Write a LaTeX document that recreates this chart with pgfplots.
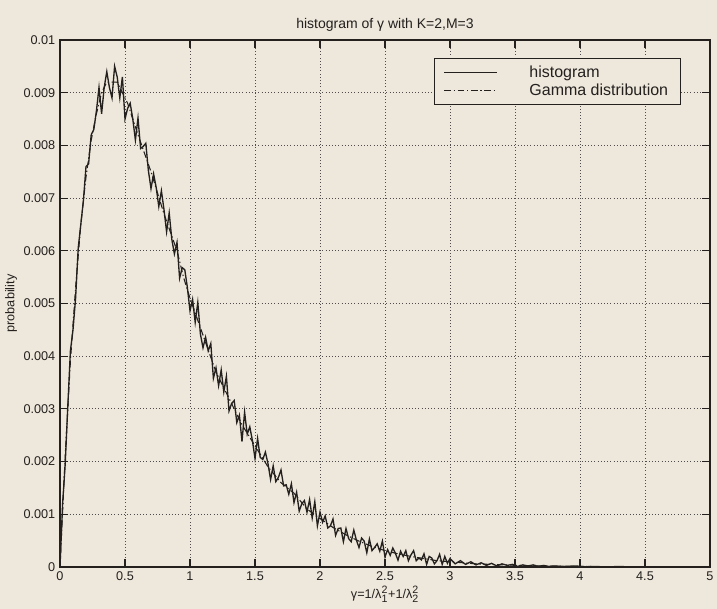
\documentclass[border=0pt]{standalone}
\usepackage{fontspec}
\setmainfont{Liberation Sans}
\usepackage{pgfplots}
\usepackage{pgfplotstable}
\pgfplotsset{compat=1.18}
\usetikzlibrary{calc,backgrounds}

\definecolor{paper}{RGB}{238,231,219}
\definecolor{ink}{RGB}{35,32,30}

% histogram of gamma (bin heights, every 0.02 up to 3)
\pgfplotstableread{
x y
0.00 0.0000
0.02 0.0012
0.04 0.00195
0.06 0.00305
0.08 0.0041
0.10 0.0045
0.12 0.0051
0.14 0.00605
0.16 0.0065
0.18 0.00695
0.20 0.0076
0.22 0.00765
0.24 0.0082
0.26 0.0083
0.28 0.00865
0.30 0.0091
0.32 0.0086
0.34 0.0091
0.36 0.0094
0.38 0.0091
0.40 0.0089
0.42 0.0095
0.44 0.0093
0.46 0.0089
0.48 0.0093
0.50 0.0085
0.52 0.0087
0.54 0.0088
0.56 0.0085
0.58 0.0081
0.60 0.00852
0.62 0.00794
0.64 0.00798
0.66 0.00804
0.68 0.00752
0.70 0.00718
0.72 0.00746
0.74 0.0072
0.76 0.00684
0.78 0.00714
0.80 0.00678
0.82 0.00636
0.84 0.00672
0.86 0.00622
0.88 0.00594
0.90 0.00616
0.92 0.00548
0.94 0.00568
0.96 0.00564
0.98 0.0053
1.00 0.00486
1.02 0.00508
1.04 0.00464
1.06 0.00502
1.08 0.00442
1.10 0.00416
1.12 0.00436
1.14 0.0041
1.16 0.00424
1.18 0.00358
1.20 0.00378
1.22 0.00344
1.24 0.00374
1.26 0.00332
1.28 0.00362
1.30 0.00296
1.32 0.0031
1.34 0.00316
1.36 0.00274
1.38 0.00288
1.40 0.00238
1.42 0.00294
1.44 0.00252
1.46 0.00266
1.48 0.0024
1.50 0.00206
1.52 0.00244
1.54 0.00208
1.56 0.00204
1.58 0.00218
1.60 0.00196
1.62 0.00166
1.64 0.00192
1.66 0.00162
1.68 0.0017
1.70 0.00184
1.72 0.00154
1.74 0.00156
1.76 0.00138
1.78 0.00158
1.80 0.00122
1.82 0.00142
1.84 0.00106
1.86 0.0012
1.88 0.00126
1.90 0.00104
1.92 0.00128
1.94 0.00093
1.96 0.00124
1.98 0.00078
2.00 0.00104
2.02 0.00085
2.04 0.00097
2.06 0.00074
2.08 0.00078
2.10 0.00091
2.12 0.00060
2.14 0.00073
2.16 0.00074
2.18 0.00048
2.20 0.00073
2.22 0.00054
2.24 0.00048
2.26 0.00070
2.28 0.00051
2.30 0.00037
2.32 0.00055
2.34 0.00049
2.36 0.00027
2.38 0.00053
2.40 0.00031
2.42 0.00037
2.44 0.00044
2.46 0.00030
2.48 0.00049
2.50 0.00019
2.52 0.00033
2.54 0.00022
2.56 0.00036
2.58 0.00026
2.60 0.00013
2.62 0.00030
2.64 0.00020
2.66 0.00031
2.68 0.00012
2.70 0.00023
2.72 0.00031
2.74 0.00012
2.76 0.00017
2.78 0.000135
2.80 0.00025
2.82 0.00005
2.84 0.00020
2.86 0.00017
2.88 0.00006
2.90 0.00012
2.92 0.00024
2.94 0.00005
2.96 0.00020
2.98 0.00007
3.00 0.00016
3.04 0.00006
3.08 0.00012
3.12 0.00005
3.16 0.00010
3.20 0.00004
3.24 0.00008
3.28 0.00003
3.32 0.00007
3.36 0.00002
3.40 0.00006
3.44 0.00003
3.48 0.00005
3.52 0.00001
3.56 0.00004
3.60 0.00002
3.64 0.00004
3.68 0.00001
3.72 0.00003
3.76 0.00001
3.80 0.00002
3.88 0.00001
3.96 0.00002
4.04 0.000005
4.12 0.00001
4.20 0.0
4.30 0.00001
4.40 0.0
4.60 0.000005
4.80 0.0
5.00 0.0
}\histdata

% fitted Gamma distribution (smooth curve under the histogram)
\pgfplotstableread{
x y
0.00 0.0
0.04 0.0021
0.08 0.0039
0.12 0.0053
0.16 0.0065
0.20 0.0074
0.24 0.0081
0.28 0.0086
0.32 0.0090
0.36 0.0092
0.40 0.0092
0.44 0.0092
0.48 0.0090
0.52 0.0088
0.56 0.0085
0.60 0.0082
0.65 0.00785
0.70 0.0075
0.75 0.0071
0.80 0.0067
0.85 0.00635
0.90 0.0060
0.95 0.0055
1.00 0.0051
1.10 0.0044
1.20 0.0037
1.30 0.0032
1.40 0.0027
1.50 0.0023
1.60 0.0019
1.70 0.0016
1.80 0.0014
1.90 0.0011
2.00 0.00092
2.10 0.00075
2.20 0.00061
2.30 0.00049
2.40 0.00039
2.50 0.00031
2.60 0.00025
2.70 0.00020
2.80 0.00016
2.90 0.00012
3.00 0.00010
3.20 0.00006
3.40 0.00004
3.60 0.000025
3.80 0.000015
4.00 0.00001
4.50 0.000003
5.00 0.0
}\gammadata

\begin{document}
\begin{tikzpicture}
\begin{axis}[
  scale only axis,
  width=487.5pt,
  height=395.25pt,
  xmin=0, xmax=5,
  ymin=0, ymax=0.01,
  xtick={0,0.5,1,1.5,2,2.5,3,3.5,4,4.5,5},
  ytick={0,0.001,0.002,0.003,0.004,0.005,0.006,0.007,0.008,0.009,0.01},
  scaled y ticks=false,
  yticklabel style={/pgf/number format/fixed, /pgf/number format/precision=3},
  /pgf/number format/assume math mode=true,
  ticklabel style={font=\fontsize{9.5}{11}\selectfont, text=ink},
  grid=major,
  major grid style={ink!80, dotted, line width=0.6pt},
  axis line style={ink, line width=0.9pt},
  tick style={ink, line width=0.8pt},
  major tick length=6pt,
  title={histogram of γ with K=2,M=3},
  title style={font=\fontsize{10.5}{12}\selectfont, text=ink, yshift=-3pt},
  xlabel={γ=1/λ$^{\mbox{\fontsize{8}{8}\selectfont 2}}_{\mbox{\fontsize{8}{8}\selectfont 1}}$+1/λ$^{\mbox{\fontsize{8}{8}\selectfont 2}}_{\mbox{\fontsize{8}{8}\selectfont 2}}$},
  xlabel style={font=\fontsize{9.5}{11}\selectfont, text=ink, yshift=3pt},
  ylabel={probability},
  ylabel style={font=\fontsize{9.5}{10}\selectfont, text=ink, yshift=-2pt},
  legend style={at={(1,1)}, anchor=north east, xshift=-22pt, yshift=-13.5pt,
    draw=ink, line width=0.8pt, fill=paper, text=ink,
    font=\fontsize{12}{13}\selectfont,
    inner xsep=7pt, inner ysep=3.5pt, row sep=-1pt,
    cells={anchor=west},
    /tikz/every odd column/.append style={column sep=22pt}},
  legend image post style={xscale=2.3},
]
\addlegendimage{ink, line width=1pt}
\addlegendentry{histogram}
\addplot[ink, line width=0.8pt, dash pattern=on 5pt off 2pt on 1pt off 2pt] table[x=x, y=y] {\gammadata};
\addlegendentry{Gamma distribution}
\addplot[ink, line width=1pt, forget plot] table[x=x, y=y] {\histdata};
\end{axis}
\begin{scope}[on background layer]
\fill[paper] ($(current axis.south west)+(-45pt,-31.5pt)$) rectangle ($(current axis.north east)+(5.25pt,30pt)$);
\end{scope}
\pgfresetboundingbox
\path[use as bounding box] ($(current axis.south west)+(-45pt,-31.5pt)$) rectangle ($(current axis.north east)+(5.25pt,30pt)$);
\end{tikzpicture}
\end{document}
